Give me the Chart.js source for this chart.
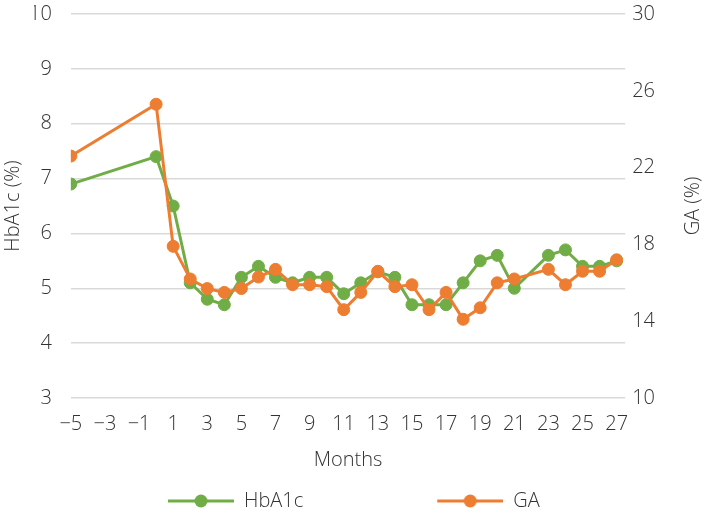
<!DOCTYPE html>
<html>
<head>
<meta charset="utf-8">
<script src="https://cdn.jsdelivr.net/npm/chart.js@4.4.1/dist/chart.umd.min.js"></script>
<style>
  html, body { margin: 0; padding: 0; background: #fff; }
  #wrap { width: 709px; height: 514px; position: relative; }
</style>
</head>
<body>
<div id="wrap"><canvas id="c"></canvas></div>
<script>
// months relative to start (no visit at month 22)
var MONTHS = [-5, 0, 1, 2, 3, 4, 5, 6, 7, 8, 9, 10, 11, 12, 13, 14, 15, 16, 17, 18, 19, 20, 21, 23, 24, 25, 26, 27];
var HBA1C  = [6.9, 7.4, 6.5, 5.1, 4.8, 4.7, 5.2, 5.4, 5.2, 5.1, 5.2, 5.2, 4.9, 5.1, 5.3, 5.2, 4.7, 4.7, 4.7, 5.1, 5.5, 5.6, 5.0, 5.6, 5.7, 5.4, 5.4, 5.5];
var GA     = [22.6, 25.3, 17.9, 16.2, 15.7, 15.5, 15.7, 16.3, 16.7, 15.9, 15.9, 15.8, 14.6, 15.5, 16.6, 15.8, 15.9, 14.6, 15.5, 14.1, 14.7, 16.0, 16.2, 16.7, 15.9, 16.6, 16.6, 17.2];
var X_TICKS  = [-5, -3, -1, 1, 3, 5, 7, 9, 11, 13, 15, 17, 19, 21, 23, 25, 27];
var Y_LEFT   = { min: 3, max: 10, step: 1 };
var Y_RIGHT  = { min: 10, max: 30, step: 4 };

var GREEN = '#70AD47', ORANGE = '#ED7D31', TEXT = '#333333', GRID = '#D9D9D9', NONE = 'rgba(0,0,0,0)';
var FONT = "'Open Sans', 'Noto Sans', sans-serif";
var FS = 20;

function pts(ys) { return MONTHS.map(function (m, i) { return { x: m, y: ys[i] }; }); }

// legend glyph: line with a marker, with a blank lead-in that spaces the entries apart
function legendIcon(color) {
  var c = document.createElement('canvas');
  c.width = 196; c.height = 16;
  var g = c.getContext('2d');
  g.strokeStyle = color; g.lineWidth = 3;
  g.beginPath(); g.moveTo(130, 8); g.lineTo(196, 8); g.stroke();
  g.fillStyle = color;
  g.beginPath(); g.arc(163, 8, 6.5, 0, Math.PI * 2); g.fill();
  return c;
}

// right axis title reads bottom-to-top, like the left one
var rightTitle = {
  id: 'rightTitle',
  afterDraw: function (chart) {
    var s = chart.scales.y1, ctx = chart.ctx;
    ctx.save();
    ctx.font = '300 ' + FS + 'px ' + FONT;
    ctx.fillStyle = TEXT; ctx.textAlign = 'center'; ctx.textBaseline = 'middle';
    ctx.translate(s.right + 38, (s.top + s.bottom) / 2);
    ctx.rotate(-Math.PI / 2);
    ctx.fillText('GA (%)', 0, 0);
    ctx.restore();
  }
};

var font = { family: FONT, size: FS, weight: '300' };

new Chart(document.getElementById('c').getContext('2d'), {
  type: 'line',
  data: {
    datasets: [
      { label: 'HbA1c', data: pts(HBA1C), yAxisID: 'y', order: 2,
        borderColor: GREEN, backgroundColor: GREEN, borderWidth: 3, tension: 0,
        pointRadius: 6, pointBorderWidth: 1, pointBorderColor: GREEN, pointBackgroundColor: GREEN },
      { label: 'GA', data: pts(GA), yAxisID: 'y1', order: 1,
        borderColor: ORANGE, backgroundColor: ORANGE, borderWidth: 3, tension: 0,
        pointRadius: 6, pointBorderWidth: 1, pointBorderColor: ORANGE, pointBackgroundColor: ORANGE }
    ]
  },
  options: {
    responsive: true, maintainAspectRatio: false, animation: false,
    layout: { padding: { top: 14, right: 54, left: 34, bottom: -7 } },
    plugins: {
      tooltip: { enabled: false },
      legend: {
        position: 'bottom', align: 'start',
        labels: {
          usePointStyle: true, pointStyleWidth: 196, padding: 4,
          font: font, color: TEXT,
          sort: function (a, b) { return a.datasetIndex - b.datasetIndex; },
          generateLabels: function (chart) {
            return Chart.defaults.plugins.legend.labels.generateLabels(chart).map(function (it) {
              it.pointStyle = legendIcon(chart.data.datasets[it.datasetIndex].borderColor);
              return it;
            });
          }
        }
      }
    },
    scales: {
      x: {
        type: 'linear', min: -5, max: 27.5,
        afterBuildTicks: function (s) { s.ticks = X_TICKS.map(function (v) { return { value: v }; }); },
        grid: { display: false, drawTicks: false }, border: { display: false },
        ticks: { font: font, color: TEXT, padding: 14, autoSkip: false, maxRotation: 0,
          callback: function (v) { return String(v).replace('-', '\u2212'); } },
        title: { display: true, text: 'Months', font: font, color: TEXT, padding: { top: -2, bottom: 15 } }
      },
      y: {
        position: 'left', min: Y_LEFT.min, max: Y_LEFT.max,
        grid: { color: GRID, lineWidth: 1.5, tickLength: 19, tickColor: NONE }, border: { display: false },
        ticks: { font: font, color: TEXT, stepSize: Y_LEFT.step, padding: 0 },
        title: { display: true, text: 'HbA1c (%)', font: font, color: TEXT, padding: { top: -33, bottom: 4 } }
      },
      y1: {
        position: 'right', min: Y_RIGHT.min, max: Y_RIGHT.max,
        grid: { drawOnChartArea: false, tickLength: 7, tickColor: NONE }, border: { display: false },
        ticks: { font: font, color: TEXT, stepSize: Y_RIGHT.step, padding: 0 }
      }
    }
  },
  plugins: [rightTitle]
});
</script>
</body>
</html>
